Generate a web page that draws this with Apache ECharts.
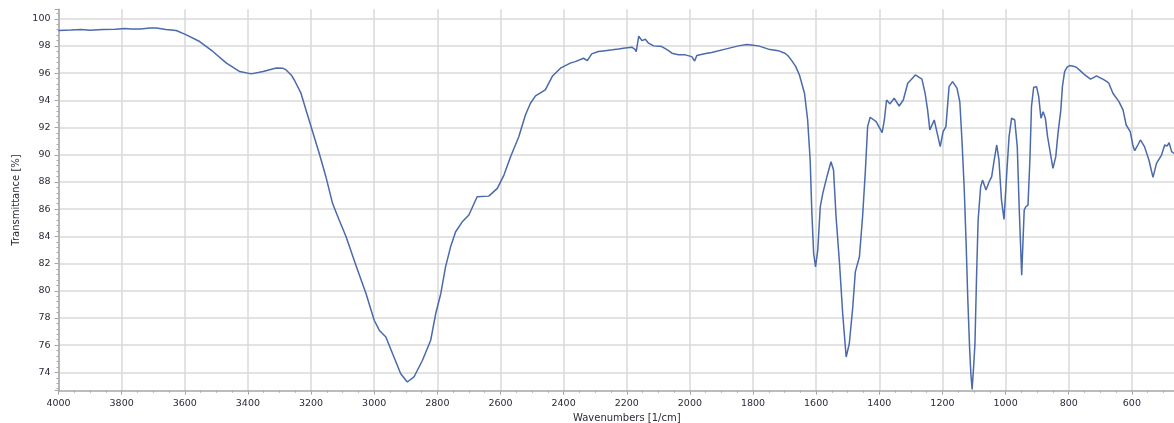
<!DOCTYPE html>
<html>
<head>
<meta charset="utf-8">
<title>IR spectrum</title>
<script src="https://cdn.jsdelivr.net/npm/echarts@6/dist/echarts.min.js"></script>
<style>
  html, body { margin: 0; padding: 0; background: #ffffff; }
  #chart { width: 1174px; height: 423px; }
</style>
</head>
<body>
<div id="chart"></div>
<script>
// FTIR spectrum: wavenumber [1/cm] and transmittance [%]
const wavenumbers = [
  4000, 3960, 3930, 3900, 3860, 3820, 3790, 3770, 3740, 3710, 3690, 3660,
  3627, 3595, 3553, 3511, 3468, 3426, 3389, 3352, 3310, 3290, 3279, 3263,
  3253, 3232, 3216, 3195, 3174, 3153, 3132, 3111, 3089, 3058, 3026, 3000,
  2984, 2963, 2942, 2916, 2895, 2874, 2847, 2821, 2805, 2789, 2774, 2758,
  2742, 2721, 2700, 2674, 2637, 2610, 2589, 2568, 2542, 2521, 2505, 2489,
  2458, 2435, 2410, 2379, 2363, 2337, 2331, 2325, 2311, 2290, 2268, 2245,
  2226, 2205, 2184, 2174, 2170, 2165, 2162, 2152, 2141, 2131, 2115, 2089,
  2070, 2057, 2036, 2015, 1994, 1985, 1983, 1978, 1973, 1950, 1931, 1888,
  1846, 1820, 1800, 1783, 1751, 1720, 1699, 1690, 1679, 1665, 1653, 1637,
  1627, 1619, 1614, 1608, 1602, 1595, 1587, 1579, 1566, 1553, 1545, 1537,
  1526, 1516, 1505, 1495, 1484, 1476, 1463, 1453, 1444, 1437, 1429, 1410,
  1391, 1384, 1377, 1366, 1353, 1337, 1324, 1310, 1298, 1286, 1265, 1255,
  1247, 1240, 1226, 1219, 1207, 1198, 1189, 1179, 1168, 1154, 1145, 1138,
  1131, 1125, 1120, 1114, 1110, 1106, 1101, 1097, 1092, 1087, 1079, 1073,
  1062, 1052, 1044, 1036, 1028, 1021, 1013, 1005, 997, 989, 981, 971,
  963, 957, 949, 941, 936, 929, 923, 918, 911, 902, 895, 888,
  881, 874, 867, 858, 850, 841, 834, 825, 820, 813, 805, 797,
  786, 776, 762, 749, 731, 720, 712, 702, 692, 680, 673, 668,
  660, 641, 628, 618, 605, 597, 591, 581, 573, 560, 546, 533,
  522, 506, 496, 488, 482, 474, 466
];
const transmittance = [
  99.15, 99.18, 99.22, 99.16, 99.22, 99.24, 99.28, 99.25, 99.26, 99.33, 99.32, 99.22,
  99.14, 98.82, 98.33, 97.60, 96.74, 96.12, 95.95, 96.12, 96.39, 96.37, 96.24, 95.87,
  95.50, 94.53, 93.30, 91.70, 90.10, 88.39, 86.43, 85.20, 83.97, 81.88, 79.80, 77.83,
  77.10, 76.60, 75.38, 73.90, 73.29, 73.66, 74.89, 76.36, 78.33, 79.80, 81.76, 83.23,
  84.34, 85.07, 85.57, 86.91, 86.96, 87.53, 88.51, 89.86, 91.33, 92.93, 93.79, 94.33,
  94.77, 95.80, 96.37, 96.74, 96.85, 97.10, 97.10, 96.92, 97.42, 97.60, 97.66, 97.72,
  97.78, 97.85, 97.91, 97.75, 97.58, 98.30, 98.72, 98.40, 98.50, 98.21, 98.01, 97.96,
  97.70, 97.47, 97.35, 97.35, 97.22, 96.90, 96.78, 97.30, 97.42, 97.45, 97.52, 97.77,
  98.01, 98.11, 98.06, 98.01, 97.77, 97.66, 97.47, 97.30, 96.98, 96.50, 95.87, 94.53,
  92.56, 89.62, 85.93, 82.75, 81.76, 82.99, 86.18, 87.16, 88.39, 89.49, 88.88, 85.44,
  82.01, 78.33, 75.13, 76.12, 78.82, 81.39, 82.50, 85.44, 88.88, 92.07, 92.76, 92.44,
  91.63, 92.56, 94.03, 93.74, 94.16, 93.59, 94.03, 95.26, 95.56, 95.87, 95.56, 94.53,
  93.30, 91.83, 92.56, 91.83, 90.60, 91.70, 92.07, 95.01, 95.38, 94.90, 93.90, 91.00,
  87.50, 83.50, 79.60, 75.80, 73.90, 72.75, 74.50, 76.12, 81.02, 85.20, 87.65, 88.14,
  87.41, 88.02, 88.39, 89.62, 90.72, 89.62, 86.68, 85.25, 88.39, 91.33, 92.69, 92.56,
  90.60, 86.18, 81.15, 85.93, 86.18, 86.30, 89.62, 93.54, 94.97, 95.01, 94.28, 92.69,
  93.17, 92.69, 91.33, 90.10, 89.00, 89.86, 91.58, 93.30, 95.01, 96.12, 96.45, 96.56,
  96.52, 96.44, 96.15, 95.87, 95.56, 95.70, 95.80, 95.68, 95.56, 95.40, 95.26, 95.38,
  94.53, 93.91, 93.30, 92.19, 91.70, 90.72, 90.30, 90.72, 91.09, 90.60, 89.62, 88.34,
  89.37, 89.98, 90.72, 90.65, 90.89, 90.23, 90.10
];

// axis ranges and tick steps
const xRange = [400, 4000];
const xStep = 200;
const yRange = [72.65, 100.7];
const yStep = 2;

const spectrum = wavenumbers.map((w, i) => [w, transmittance[i]]);

const axisGray = '#a6a6a6';
const gridGray = '#dadada';
const labelColor = '#2a2a3a';
const fontFamily = 'DejaVu Sans, Verdana, sans-serif';

const chart = echarts.init(document.getElementById('chart'), null, { renderer: 'canvas' });
chart.setOption({
  animation: false,
  backgroundColor: '#ffffff',
  grid: {
    left: 58.5,
    top: 9.3,
    bottom: 32.3,
    right: -21,
    containLabel: false,
    outerBoundsMode: 'none'
  },
  xAxis: {
    type: 'value',
    inverse: true,
    min: xRange[0],
    max: xRange[1],
    interval: xStep,
    name: 'Wavenumbers [1/cm]',
    nameLocation: 'middle',
    nameGap: 18,
    nameTextStyle: { fontFamily, fontSize: 10, color: labelColor },
    axisLine: { show: true, lineStyle: { color: axisGray, width: 1.5 } },
    axisTick: { show: true, inside: false, length: 4, lineStyle: { color: axisGray, width: 1 } },
    minorTick: { show: true, splitNumber: 4, length: 2, lineStyle: { color: axisGray, width: 1 } },
    axisLabel: {
      fontFamily, fontSize: 9.5, color: labelColor, margin: 8,
      formatter: v => String(Math.round(v))
    },
    splitLine: { show: true, lineStyle: { color: gridGray, width: 1.5 } }
  },
  yAxis: {
    type: 'value',
    min: yRange[0],
    max: yRange[1],
    minInterval: yStep,
    maxInterval: yStep,
    splitNumber: 14,
    name: 'Transmittance [%]',
    nameLocation: 'middle',
    nameGap: 31,
    nameRotate: 90,
    nameTextStyle: { fontFamily, fontSize: 10, color: labelColor },
    axisLine: { show: true, lineStyle: { color: axisGray, width: 1.5 } },
    axisTick: { show: true, inside: false, length: 4, lineStyle: { color: axisGray, width: 1 } },
    minorTick: { show: true, splitNumber: 5, length: 2, lineStyle: { color: axisGray, width: 1 } },
    axisLabel: {
      fontFamily, fontSize: 9.5, color: labelColor, margin: 8,
      showMinLabel: false, showMaxLabel: false,
      formatter: v => String(Math.round(v))
    },
    splitLine: { show: true, showMinLine: false, showMaxLine: false, lineStyle: { color: gridGray, width: 1.5 } }
  },
  series: [{
    type: 'line',
    data: spectrum,
    showSymbol: false,
    symbol: 'none',
    clip: true,
    lineStyle: { color: '#4a6aab', width: 1.5 }
  }]
});
</script>
</body>
</html>
